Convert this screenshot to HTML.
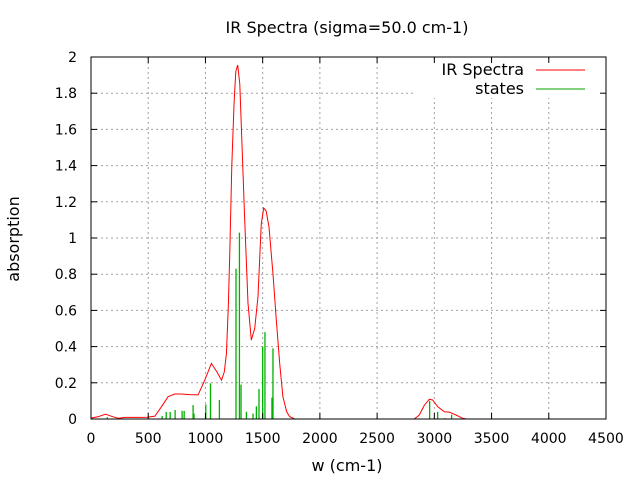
<!DOCTYPE html>
<html><head><meta charset="utf-8"><style>
body{margin:0;background:#fff}
svg{display:block;font-family:"DejaVu Sans","Liberation Sans",sans-serif;font-size:14px}
.big{font-size:16px}
</style></head><body>
<svg id="chart" width="640" height="480" xmlns="http://www.w3.org/2000/svg">
<rect width="640" height="480" fill="#fff"/>
<text class="big" x="347" y="33" text-anchor="middle">IR Spectra (sigma=50.0 cm-1)</text>
<text class="big" x="347" y="471" text-anchor="middle">w (cm-1)</text>
<text class="big" transform="translate(19,239) rotate(-90)" text-anchor="middle">absorption</text>
<g id="grid"></g>
<g id="sticks"></g>
<path id="curve" fill="none" stroke="#ff0000" stroke-width="1"/>
<rect x="415" y="59" width="190" height="39" fill="#fff"/>
<g>
<text class="big" x="524" y="75" text-anchor="end">IR Spectra</text>
<line x1="536" y1="70" x2="585" y2="70" stroke="#ff0000"/>
<text class="big" x="524" y="94" text-anchor="end">states</text>
<line x1="536" y1="89" x2="585" y2="89" stroke="#00a000"/>
</g>
<rect x="91" y="57" width="515" height="362" fill="none" stroke="#000"/>
<g id="ticks"></g>
</svg>
<script>
const xTicks=[0,500,1000,1500,2000,2500,3000,3500,4000,4500];
const yTicks=[0,0.2,0.4,0.6,0.8,1,1.2,1.4,1.6,1.8,2];
const yTickLabels=["0","0.2","0.4","0.6","0.8","1","1.2","1.4","1.6","1.8","2"];
const stickFreq=[142,622,657,692,735,796,814,892,900,1003,1044,1122,1267,1297,1311,1358,1416,1445,1468,1500,1520,1581,1590,2959,3029,3090,3151];
const stickInt=[0.01,0.017,0.039,0.039,0.05,0.045,0.045,0.077,0.03,0.08,0.197,0.105,0.83,1.03,0.19,0.04,0.03,0.07,0.166,0.40,0.48,0.118,0.39,0.1,0.039,0.005,0.024];
const curveW=[0,60,128,180,238,300,400,491,558,616,674,733,791,860,936,994,1052,1100,1140,1165,1183,1200,1212,1230,1250,1265,1282,1300,1320,1343,1372,1401,1430,1459,1475,1488,1509,1530,1555,1590,1619,1650,1677,1710,1735,1780,2825,2869,2913,2956,2985,3029,3087,3131,3189,3247,3280,4500];
const curveA=[0.005,0.012,0.027,0.015,0.004,0.009,0.009,0.01,0.016,0.068,0.123,0.138,0.138,0.135,0.133,0.215,0.307,0.26,0.215,0.26,0.36,0.62,0.9,1.4,1.75,1.92,1.956,1.85,1.5,1.10,0.64,0.436,0.5,0.676,0.9,1.08,1.166,1.15,1.06,0.8,0.547,0.3,0.123,0.04,0.013,0,0,0.022,0.077,0.109,0.105,0.068,0.04,0.038,0.022,0.004,0,0];
const X=v=>91+v*(515/4500), Y=v=>419-v*(362/2);
const NS="http://www.w3.org/2000/svg";
const grid=document.getElementById('grid'),ticks=document.getElementById('ticks'),sticks=document.getElementById('sticks');
function mk(t,a,p){const e=document.createElementNS(NS,t);for(const k in a)e.setAttribute(k,a[k]);p.appendChild(e);return e;}
xTicks.forEach((v,i)=>{
 if(i>0&&i<xTicks.length-1){const g=mk('line',{x1:X(v),x2:X(v),y1:57,y2:419,stroke:'#a0a0a0','stroke-dasharray':'2,3'},grid);
 
 }
 const t=mk('line',{x1:X(v),x2:X(v),y1:419,y2:413,stroke:'#000'},ticks);
 
 
 const t2=mk('line',{x1:X(v),x2:X(v),y1:57,y2:63,stroke:'#000'},ticks);
 
 
 const l=mk('text',{x:X(v),y:443,'text-anchor':'middle'},ticks);l.textContent=String(v);
 
 
});
yTicks.forEach((v,i)=>{
 if(i>0&&i<yTicks.length-1){const g=mk('line',{x1:91,x2:606,y1:Y(v),y2:Y(v),stroke:'#a0a0a0','stroke-dasharray':'2,3'},grid);
 
 }
 const t=mk('line',{x1:91,x2:97,y1:Y(v),y2:Y(v),stroke:'#000'},ticks);
 
 
 const t2=mk('line',{x1:600,x2:606,y1:Y(v),y2:Y(v),stroke:'#000'},ticks);
 
 
 const l=mk('text',{x:77,y:Y(v)+5,'text-anchor':'end'},ticks);l.textContent=yTickLabels[i];
 
 
});
stickFreq.forEach((f,i)=>{
 const s=mk('line',{x1:X(f),x2:X(f),y1:Y(0),y2:Y(stickInt[i]),stroke:'#00b000','stroke-width':1.3},sticks);
 
 
});
document.getElementById('curve').setAttribute('d',curveW.map((w,i)=>(i?'L':'M')+X(w).toFixed(1)+','+Y(curveA[i]).toFixed(1)).join(''));
</script>
</body></html>
